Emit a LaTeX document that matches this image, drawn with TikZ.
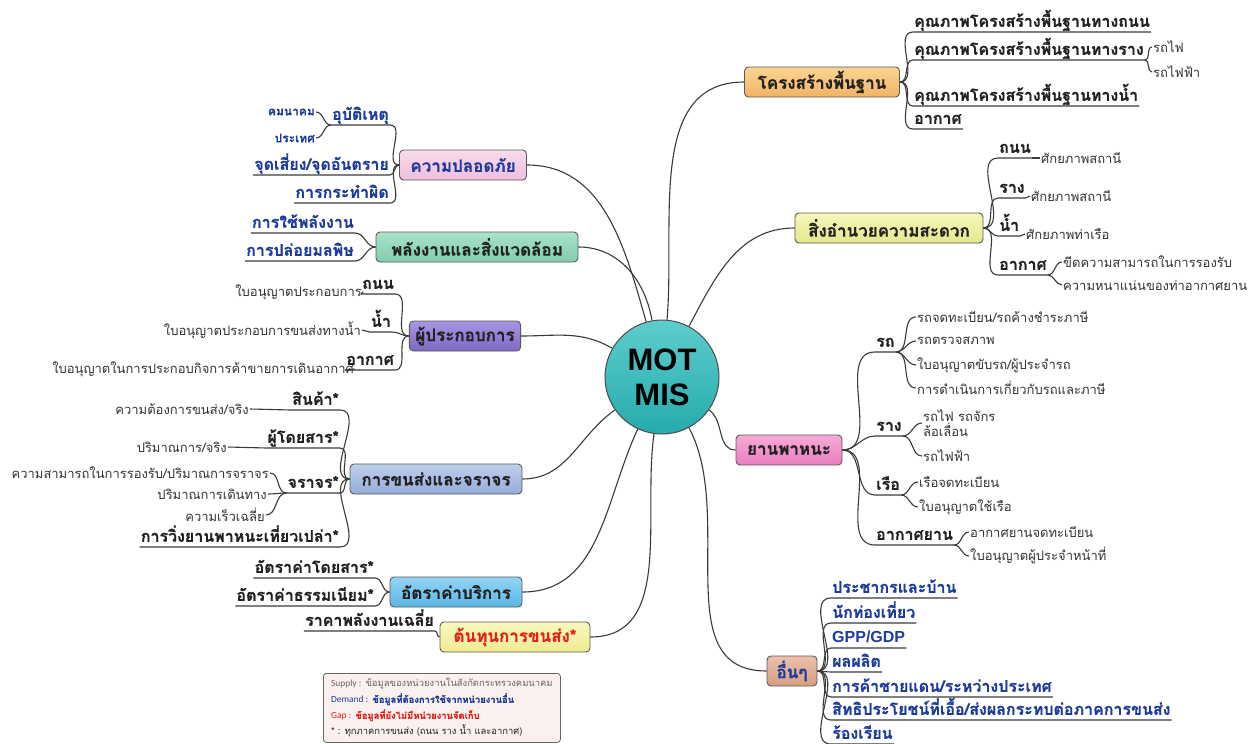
\documentclass[tikz,border=0pt]{standalone}
\usepackage{fontspec}
\newfontfamily\thf[Script=Thai, BoldFeatures={FakeBold=0.6}]{Loma}
\newfontfamily\lsans{Liberation Sans}
\newfontfamily\carl{Carlito}
\definecolor{lc}{HTML}{3A3A3A}
\definecolor{txt}{HTML}{222222}
\definecolor{txtg}{HTML}{333333}
\definecolor{tblue}{HTML}{1E3C9C}
\definecolor{tred}{HTML}{E8201A}
\tikzset{
  br/.style={draw=lc, line width=1.1pt},
  mainbox/.style={draw=black!65, line width=0.9pt, rounded corners=4pt, minimum height=30pt,
    inner xsep=6pt, inner ysep=2pt, font=\thf\bfseries\fontsize{17}{20}\selectfont, text=txt},
  ulbase/.style={inner xsep=1pt, inner ysep=1pt, text height=12pt, text depth=4pt,
    font=\thf\bfseries\fontsize{16}{18}\selectfont, text=txt},
  ulr/.style={ulbase, anchor=south west},
  ull/.style={ulbase, anchor=south east},
  blu/.style={text=tblue},
  sm/.style={inner sep=1pt, font=\thf\fontsize{13}{15}\selectfont, text=txtg},
  smr/.style={sm, anchor=west},
  sml/.style={sm, anchor=east},
}
\begin{document}
\begin{tikzpicture}[x=1pt,y=-1pt]
\useasboundingbox (0,0) rectangle (1256,744);

% centre
\node[circle, draw=black!70, line width=1pt, minimum size=114pt, inner sep=0pt,
  top color={rgb,255:red,92;green,206;blue,204}, bottom color={rgb,255:red,38;green,170;blue,172},
  font=\lsans\bfseries\fontsize{31}{35}\selectfont, align=center, text=black] (c) at (662,377) {MOT\\MIS};

% main nodes
\node[mainbox, top color={rgb,255:red,251;green,212;blue,150}, bottom color={rgb,255:red,240;green,180;blue,100}, minimum width=155pt] (infra) at (822,82) {โครงสร้างพื้นฐาน};
\node[mainbox, top color={rgb,255:red,246;green,247;blue,186}, bottom color={rgb,255:red,228;green,232;blue,140}, minimum width=188pt] (facil) at (889,228) {สิ่งอำนวยความสะดวก};
\node[mainbox, top color={rgb,255:red,248;green,170;blue,214}, bottom color={rgb,255:red,232;green,126;blue,190}, minimum width=106pt] (vehic) at (789,450) {ยานพาหนะ};
\node[mainbox, top color={rgb,255:red,236;green,192;blue,170}, bottom color={rgb,255:red,214;green,158;blue,130}, minimum width=50pt, text=tblue] (other) at (792,671) {อื่นๆ};
\node[mainbox, top color={rgb,255:red,250;green,218;blue,236}, bottom color={rgb,255:red,238;green,190;blue,220}, minimum width=127pt, text=tblue] (safety) at (463,165) {ความปลอดภัย};
\node[mainbox, top color={rgb,255:red,170;green,226;blue,202}, bottom color={rgb,255:red,128;green,204;blue,174}, minimum width=202pt] (energy) at (477,247) {พลังงานและสิ่งแวดล้อม};
\node[mainbox, top color={rgb,255:red,168;green,150;blue,226}, bottom color={rgb,255:red,126;green,104;blue,196}, minimum width=88pt] (oper) at (465,336) {ผู้ประกอบการ};
\node[mainbox, top color={rgb,255:red,190;green,206;blue,236}, bottom color={rgb,255:red,150;green,172;blue,218}, minimum width=172pt] (traffic) at (436,479) {การขนส่งและจราจร};
\node[mainbox, top color={rgb,255:red,146;green,212;blue,244}, bottom color={rgb,255:red,92;green,182;blue,230}, minimum width=132pt] (fare) at (456,592) {อัตราค่าบริการ};
\node[mainbox, top color={rgb,255:red,250;green,248;blue,188}, bottom color={rgb,255:red,238;green,236;blue,146}, minimum width=150pt, text=tred] (cost) at (515,637) {ต้นทุนการขนส่ง*};

% connectors to centre
\draw[br] (infra.west) to[out=180,in=85] (c.85);
\draw[br] (facil.west) to[out=180,in=62] (c.62);
\draw[br] (vehic.west) to[out=180,in=-35] (c.-35);
\draw[br] (other.west) to[out=180,in=-62] (c.-62);
\draw[br] (safety.east) to[out=0,in=106] (c.106);
\draw[br] (energy.east) to[out=0,in=100] (c.100);
\draw[br] (oper.east) to[out=0,in=150] (c.150);
\draw[br] (traffic.east) to[out=0,in=215] (c.215);
\draw[br] (fare.east) to[out=0,in=245] (c.245);
\draw[br] (cost.east) to[out=0,in=262] (c.262);

% ---- infrastructure
\node[ulr] (r1) at (913,32) {คุณภาพโครงสร้างพื้นฐานทางถนน};
\node[ulr] (r2) at (913,60) {คุณภาพโครงสร้างพื้นฐานทางราง};
\node[ulr] (r3) at (913,106) {คุณภาพโครงสร้างพื้นฐานทางน้ำ};
\node[ulr] (r4) at (913,129) {อากาศ};
\node[smr] (r2a) at (1152,47) {รถไฟ};
\node[smr] (r2b) at (1152,72) {รถไฟฟ้า};
\foreach \n in {r1,r2,r3,r4}
  \draw[br] (infra.east) to[out=0,in=180] (\n.south west) -- (\n.south east);
\draw[br] (r2.south east) to[out=0,in=180] (r2a.west);
\draw[br] (r2.south east) to[out=0,in=180] (r2b.west);

% ---- facilities
\node[ulr] (f1) at (998,158) {ถนน};
\node[ulr] (f2) at (998,198) {ราง};
\node[ulr] (f3) at (998,236) {น้ำ};
\node[ulr] (f4) at (998,275) {อากาศ};
\node[smr] (f1a) at (1040,158) {ศักยภาพสถานี};
\node[smr] (f2a) at (1030,196) {ศักยภาพสถานี};
\node[smr] (f3a) at (1025,234) {ศักยภาพท่าเรือ};
\node[smr] (f4a) at (1062,262) {ขีดความสามารถในการรองรับ};
\node[smr] (f4b) at (1062,285) {ความหนาแน่นของท่าอากาศยาน};
\foreach \n in {f1,f2,f3,f4}
  \draw[br] (facil.east) to[out=0,in=180] (\n.south west) -- (\n.south east);
\draw[br] (f1.south east) to[out=0,in=180] (f1a.west);
\draw[br] (f2.south east) to[out=0,in=180] (f2a.west);
\draw[br] (f3.south east) to[out=0,in=180] (f3a.west);
\draw[br] (f4.south east) to[out=0,in=180] (f4a.west);
\draw[br] (f4.south east) to[out=0,in=180] (f4b.west);

% ---- vehicles
\node[ulr] (v1) at (875,352) {รถ};
\node[ulr] (v2) at (875,436) {ราง};
\node[ulr] (v3) at (875,495) {เรือ};
\node[ulr] (v4) at (875,545) {อากาศยาน};
\foreach \n in {v1,v2,v3,v4}
  \draw[br] (vehic.east) to[out=0,in=180] (\n.south west) -- (\n.south east);
\node[smr] (v1a) at (916,317) {รถจดทะเบียน/รถค้างชำระภาษี};
\node[smr] (v1b) at (916,341) {รถตรวจสภาพ};
\node[smr] (v1c) at (916,365) {ใบอนุญาตขับรถ/ผู้ประจำรถ};
\node[smr] (v1d) at (916,388) {การดำเนินการเกี่ยวกับรถและภาษี};
\node[smr, align=left] (v2a) at (922,423) {รถไฟ รถจักร\\ล้อเลื่อน};
\node[smr] (v2b) at (922,456) {รถไฟฟ้า};
\node[smr] (v3a) at (918,482) {เรือจดทะเบียน};
\node[smr] (v3b) at (918,507) {ใบอนุญาตใช้เรือ};
\node[smr] (v4a) at (969,532) {อากาศยานจดทะเบียน};
\node[smr] (v4b) at (969,556) {ใบอนุญาตผู้ประจำหน้าที่};
\foreach \n in {v1a,v1b,v1c,v1d} \draw[br] (v1.south east) to[out=0,in=180] (\n.west);
\foreach \n in {v2a,v2b} \draw[br] (v2.south east) to[out=0,in=180] (\n.west);
\foreach \n in {v3a,v3b} \draw[br] (v3.south east) to[out=0,in=180] (\n.west);
\foreach \n in {v4a,v4b} \draw[br] (v4.south east) to[out=0,in=180] (\n.west);

% ---- others
\node[ulr, blu] (o1) at (831,598) {ประชากรและบ้าน};
\node[ulr, blu] (o2) at (831,623) {นักท่องเที่ยว};
\node[ulr, blu, font=\lsans\bfseries\fontsize{16}{18}\selectfont] (o3) at (831,648) {GPP/GDP};
\node[ulr, blu] (o4) at (831,672) {ผลผลิต};
\node[ulr, blu] (o5) at (831,697) {การค้าชายแดน/ระหว่างประเทศ};
\node[ulr, blu] (o6) at (831,720) {สิทธิประโยชน์ที่เอื้อ/ส่งผลกระทบต่อภาคการขนส่ง};
\node[ulr, blu] (o7) at (831,744) {ร้องเรียน};
\foreach \n in {o1,o2,o3,o4,o5,o6,o7}
  \draw[br] (other.east) to[out=0,in=180] (\n.south west) -- (\n.south east);

% ---- safety
\node[ull, blu] (s1) at (390,125) {อุบัติเหตุ};
\node[ull, blu] (s2) at (390,175) {จุดเสี่ยง/จุดอันตราย};
\node[ull, blu] (s3) at (390,203) {การกระทำผิด};
\foreach \n in {s1,s2,s3}
  \draw[br] (safety.west) to[out=180,in=0] (\n.south east) -- (\n.south west);
\node[sml, text=tblue, font=\thf\bfseries\fontsize{12}{13}\selectfont] (s1a) at (316,112) {คมนาคม};
\node[sml, text=tblue, font=\thf\bfseries\fontsize{12}{13}\selectfont] (s1b) at (316,138) {ประเทศ};
\draw[br] (s1.south west) to[out=180,in=0] (s1a.east);
\draw[br] (s1.south west) to[out=180,in=0] (s1b.east);

% ---- energy
\node[ull, blu] (e1) at (355,233) {การใช้พลังงาน};
\node[ull, blu] (e2) at (355,261) {การปล่อยมลพิษ};
\foreach \n in {e1,e2}
  \draw[br] (energy.west) to[out=180,in=0] (\n.south east) -- (\n.south west);

% ---- operators
\node[ull] (p1) at (395,294) {ถนน};
\node[ull] (p2) at (392,332) {น้ำ};
\node[ull] (p3) at (395,370) {อากาศ};
\foreach \n in {p1,p2,p3}
  \draw[br] (oper.west) to[out=180,in=0] (\n.south east) -- (\n.south west);
\node[sml] (p1a) at (363,292) {ใบอนุญาตประกอบการ};
\node[sml] (p2a) at (362,330) {ใบอนุญาตประกอบการขนส่งทางน้ำ};
\node[sml] (p3a) at (355,369) {ใบอนุญาตในการประกอบกิจการค้าขายการเดินอากาศ};
\draw[br] (p1.south west) -- (p1a.east);
\draw[br] (p2.south west) -- (p2a.east);
\draw[br] (p3.south west) -- (p3a.east);

% ---- traffic
\node[ull] (t1) at (340,410) {สินค้า*};
\node[ull] (t2) at (340,448) {ผู้โดยสาร*};
\node[ull] (t3) at (340,493) {จราจร*};
\node[ull] (t4) at (340,547) {การวิ่งยานพาหนะเที่ยวเปล่า*};
\foreach \n in {t1,t2,t3,t4}
  \draw[br] (traffic.west) to[out=180,in=0] (\n.south east) -- (\n.south west);
\node[sml] (t1a) at (250,409) {ความต้องการขนส่ง/จริง};
\node[sml] (t2a) at (228,447) {ปริมาณการ/จริง};
\node[sml] (t3a) at (270,473) {ความสามารถในการรองรับ/ปริมาณการจราจร};
\node[sml] (t3b) at (268,494) {ปริมาณการเดินทาง};
\node[sml] (t3c) at (266,515) {ความเร็วเฉลี่ย};
\draw[br] (t1.south west) -- (t1a.east);
\draw[br] (t2.south west) -- (t2a.east);
\foreach \n in {t3a,t3b,t3c} \draw[br] (t3.south west) to[out=180,in=0] (\n.east);

% ---- fares
\node[ull] (a1) at (375,578) {อัตราค่าโดยสาร*};
\node[ull] (a2) at (375,606) {อัตราค่าธรรมเนียม*};
\foreach \n in {a1,a2}
  \draw[br] (fare.west) to[out=180,in=0] (\n.south east) -- (\n.south west);

% ---- cost
\node[ull] (k1) at (435,631) {ราคาพลังงานเฉลี่ย};
\draw[br] (cost.west) to[out=180,in=0] (k1.south east) -- (k1.south west);

% ---- legend
\node[draw=black!60, line width=0.8pt, rounded corners=3pt, fill={rgb,255:red,250;green,240;blue,238}, anchor=north west,
  minimum width=237pt, minimum height=69pt, inner xsep=5pt, align=left,
  font=\thf\fontsize{9.4}{16}\selectfont, text=black!60] (leg) at (323,673)
 {{\carl Supply :} ข้อมูลของหน่วยงานในสังกัดกระทรวงคมนาคม\\
  {\color{tblue}{\carl Demand :} \bfseries ข้อมูลที่ต้องการใช้จากหน่วยงานอื่น}\\
  {\color{tred}{\carl Gap :} \bfseries ข้อมูลที่ยังไม่มีหน่วยงานจัดเก็บ}\\
  {\color{txt}* : ทุกภาคการขนส่ง (ถนน ราง น้ำ และอากาศ)}};
\end{tikzpicture}
\end{document}
